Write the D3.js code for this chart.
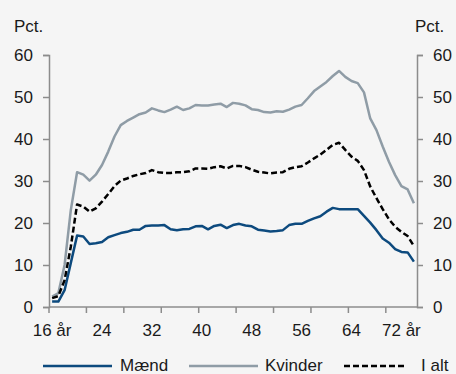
<!DOCTYPE html>
<html>
<head>
<meta charset="utf-8">
<script src="https://cdn.jsdelivr.net/npm/d3@7"></script>
<style>
  html, body { margin: 0; padding: 0; background: #f5f5f5; }
  svg { display: block; font-family: "Liberation Sans", Arial, sans-serif; }
</style>
</head>
<body>
<svg id="chart" width="456" height="374"></svg>
<script>
// ages 16..74
const ages = d3.range(16, 75)
const maend = [1.3, 1.3, 4.0, 10.5, 17.0, 16.8, 15.0, 15.2, 15.5, 16.6, 17.1, 17.6,
  17.9, 18.4, 18.4, 19.3, 19.4, 19.4, 19.5, 18.5, 18.3, 18.5, 18.6, 19.2,
  19.3, 18.5, 19.3, 19.6, 18.8, 19.5, 19.8, 19.4, 19.2, 18.4, 18.2, 18.0,
  18.1, 18.3, 19.5, 19.8, 19.8, 20.5, 21.1, 21.6, 22.7, 23.6, 23.3, 23.3,
  23.3, 23.3, 21.7, 20.1, 18.3, 16.3, 15.3, 13.8, 13.1, 13.0, 10.8]
const kvinder = [2.5, 3.3, 10.0, 23.1, 32.1, 31.5, 30.1, 31.5, 33.8, 37.0, 40.6, 43.3,
  44.3, 45.1, 45.9, 46.3, 47.3, 46.8, 46.4, 47.0, 47.7, 46.9, 47.3, 48.1,
  48.0, 48.0, 48.2, 48.4, 47.6, 48.6, 48.4, 48.0, 47.1, 46.9, 46.4, 46.3,
  46.6, 46.5, 47.0, 47.7, 48.1, 49.7, 51.4, 52.5, 53.6, 55.0, 56.2, 54.8,
  53.8, 53.3, 51.1, 44.9, 42.1, 38.2, 34.6, 31.4, 28.8, 28.0, 24.7]
const iAlt = [2.1, 2.6, 6.4, 14.4, 24.4, 23.9, 22.7, 23.5, 25.1, 26.9, 28.8, 30.1,
  30.6, 31.2, 31.6, 31.9, 32.6, 32.1, 31.9, 31.9, 32.1, 32.1, 32.3, 33.0,
  33.0, 32.9, 33.3, 33.5, 33.0, 33.6, 33.6, 33.3, 32.7, 32.2, 32.0, 31.8,
  32.0, 32.1, 32.9, 33.3, 33.5, 34.4, 35.4, 36.3, 37.4, 38.6, 39.1, 37.4,
  35.8, 34.8, 32.6, 28.7, 25.9, 23.3, 20.9, 19.1, 17.9, 16.9, 14.5]
const yTicks = [0, 10, 20, 30, 40, 50, 60]
const xLabelAges = [16, 24, 32, 40, 48, 56, 64, 72]

const series = [
  { name: 'Mænd', values: maend, color: '#0d4a7e', dash: null },
  { name: 'Kvinder', values: kvinder, color: '#8f9ca6', dash: null },
  { name: 'I alt', values: iAlt, color: '#000000', dash: '6,3' },
]

const svg = d3.select('#chart')
const plotLeft = 49
const plotRight = 417
const plotTop = 55
const plotBottom = 307
const axisColor = '#8c8c8c'
const textColor = '#1a1a1a'
const fontSize = 17

const x = d3.scaleBand().domain(ages).range([plotLeft, plotRight])
const xc = (a) => x(a) + x.bandwidth() / 2
const y = d3.scaleLinear().domain([0, 60]).range([plotBottom, plotTop])

// y axes on both sides
const yLeft = svg.append('g')
  .attr('transform', `translate(${plotLeft},0)`)
  .call(d3.axisLeft(y).tickValues(yTicks).tickSize(6).tickPadding(10))
const yRight = svg.append('g')
  .attr('transform', `translate(${plotRight},0)`)
  .call(d3.axisRight(y).tickValues(yTicks).tickSize(6).tickPadding(10))

// x axis: tick marks at every 6th category boundary, labels every 8 years
const boundaries = d3.range(0, ages.length + 1, 6).map((i) => plotLeft + i * x.step())
const xAxis = svg.append('g')
xAxis.append('line')
  .attr('x1', plotLeft).attr('x2', plotRight)
  .attr('y1', plotBottom).attr('y2', plotBottom)
  .attr('stroke', axisColor).attr('stroke-width', 1.5)
xAxis.selectAll('line.tick')
  .data(boundaries)
  .join('line')
  .attr('class', 'tick')
  .attr('x1', (d) => d).attr('x2', (d) => d)
  .attr('y1', plotBottom).attr('y2', plotBottom + 6)
  .attr('stroke', axisColor).attr('stroke-width', 1.5)
xAxis.selectAll('text')
  .data(xLabelAges)
  .join('text')
  .attr('x', (d) => xc(d))
  .attr('y', plotBottom + 29)
  .attr('text-anchor', 'middle')
  .attr('font-size', fontSize)
  .attr('fill', textColor)
  .text((d) => (d === 16 || d === 72) ? `${d} år` : d)

for (const g of [yLeft, yRight]) {
  g.select('.domain').attr('stroke', axisColor).attr('stroke-width', 1.5)
  g.selectAll('.tick line').attr('stroke', axisColor).attr('stroke-width', 1.5)
  g.selectAll('.tick text').attr('font-size', fontSize).attr('fill', textColor)
    .attr('font-family', '"Liberation Sans", Arial, sans-serif')
}

svg.append('text').attr('x', 14).attr('y', 32).attr('font-size', fontSize)
  .attr('fill', textColor).text('Pct.')
svg.append('text').attr('x', 415).attr('y', 32).attr('font-size', fontSize)
  .attr('fill', textColor).text('Pct.')

// lines
const line = d3.line().x((d, i) => xc(ages[i])).y((d) => y(d))
svg.append('g')
  .selectAll('path')
  .data(series)
  .join('path')
  .attr('d', (d) => line(d.values))
  .attr('fill', 'none')
  .attr('stroke', (d) => d.color)
  .attr('stroke-width', 2.5)
  .attr('stroke-dasharray', (d) => d.dash)
  .attr('stroke-linejoin', 'round')

// legend
const legendItems = [
  { s: series[0], x1: 43, x2: 112, tx: 120 },
  { s: series[1], x1: 189, x2: 258, tx: 265 },
  { s: series[2], x1: 344, x2: 405, tx: 421 },
]
const legend = svg.append('g')
legend.selectAll('line')
  .data(legendItems)
  .join('line')
  .attr('x1', (d) => d.x1).attr('x2', (d) => d.x2)
  .attr('y1', 366).attr('y2', 366)
  .attr('stroke', (d) => d.s.color)
  .attr('stroke-width', 2.5)
  .attr('stroke-dasharray', (d) => d.s.dash)
legend.selectAll('text')
  .data(legendItems)
  .join('text')
  .attr('x', (d) => d.tx)
  .attr('y', 371)
  .attr('font-size', fontSize)
  .attr('fill', textColor)
  .text((d) => d.s.name)
</script>
</body>
</html>
